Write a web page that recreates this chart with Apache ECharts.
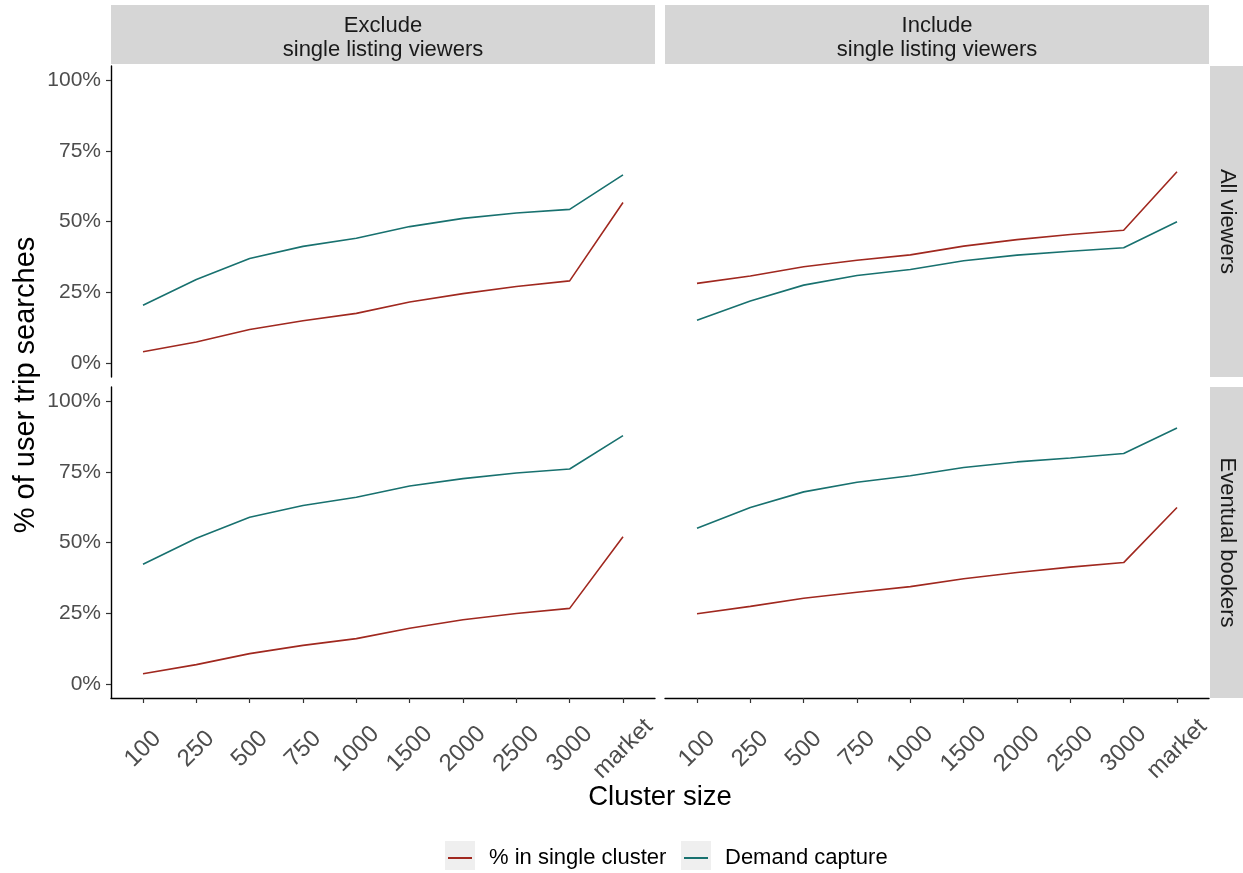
<!DOCTYPE html>
<html>
<head>
<meta charset="utf-8">
<script src="https://cdn.jsdelivr.net/npm/echarts@6/dist/echarts.min.js"></script>
<style>html,body{margin:0;padding:0;background:#fff}#c{width:1243px;height:873px}</style>
</head>
<body>
<div id="c"></div>
<script>
var clusterSizes = ['100','250','500','750','1000','1500','2000','2500','3000','market'];
var yTicks = [0, 0.25, 0.5, 0.75, 1];
var colTitles = ['Exclude\nsingle listing viewers', 'Include\nsingle listing viewers'];
var rowTitles = ['All viewers', 'Eventual bookers'];
var seriesNames = ['% in single cluster', 'Demand capture'];

var exclAllSingle   = [0.039,0.074,0.118,0.149,0.175,0.215,0.245,0.270,0.290,0.567];
var exclAllCapture  = [0.204,0.295,0.369,0.412,0.441,0.482,0.511,0.530,0.543,0.665];
var inclAllSingle   = [0.281,0.307,0.340,0.363,0.382,0.413,0.436,0.454,0.469,0.676];
var inclAllCapture  = [0.151,0.219,0.275,0.309,0.330,0.361,0.381,0.395,0.407,0.499];
var exclBookSingle  = [0.036,0.068,0.107,0.136,0.160,0.197,0.227,0.249,0.267,0.520];
var exclBookCapture = [0.423,0.515,0.589,0.631,0.660,0.700,0.726,0.746,0.760,0.878];
var inclBookSingle  = [0.248,0.274,0.303,0.324,0.344,0.372,0.394,0.413,0.429,0.624];
var inclBookCapture = [0.550,0.624,0.679,0.713,0.736,0.765,0.785,0.799,0.815,0.905];

var FONT = '"Liberation Sans", Arial, Helvetica, sans-serif';
var RED = '#A0281F', TEAL = '#18716F';

var panelLeft = [111, 665], panelTop = [66, 387], PW = 544, PH = 311;
var panelData = [
  [exclAllSingle, exclAllCapture], [inclAllSingle, inclAllCapture],
  [exclBookSingle, exclBookCapture], [inclBookSingle, inclBookCapture]
];

var grids = [], xAxes = [], yAxes = [], series = [];
var xIdx = clusterSizes.map(function(_, i){ return i; });
for (var r = 0; r < 2; r++) {
  for (var c = 0; c < 2; c++) {
    var g = r * 2 + c;
    grids.push({left: panelLeft[c], top: panelTop[r], width: PW, height: PH, containLabel: false});
    var showX = (r === 1), showY = (c === 0);
    xAxes.push({
      type: 'value', gridIndex: g, min: -0.6, max: 9.6,
      splitLine: {show: false},
      axisLine: {show: showX, onZero: false, lineStyle: {color: '#000', width: 1.4}},
      axisTick: {show: showX, length: 5, customValues: xIdx, lineStyle: {color: '#333', width: 1.2}},
      axisLabel: {show: showX, customValues: xIdx, rotate: 45, margin: 51,
        align: 'center', verticalAlign: 'middle',
        color: '#4d4d4d', fontSize: 24, fontFamily: FONT,
        formatter: function(v){ return clusterSizes[Math.round(v)]; }}
    });
    yAxes.push({
      type: 'value', gridIndex: g, min: -0.05, max: 1.05,
      splitLine: {show: false},
      axisLine: {show: showY, onZero: false, lineStyle: {color: '#000', width: 1.4}},
      axisTick: {show: showY, length: 5, customValues: yTicks, lineStyle: {color: '#333', width: 1.2}},
      axisLabel: {show: showY, customValues: yTicks, margin: 10,
        color: '#4d4d4d', fontSize: 21, fontFamily: FONT,
        formatter: function(v){ return Math.round(v * 100) + '%'; }}
    });
    var pd = panelData[g];
    [0, 1].forEach(function(k){
      series.push({
        name: seriesNames[k], type: 'line', xAxisIndex: g, yAxisIndex: g,
        symbol: 'none', silent: true, animation: false,
        lineStyle: {width: 1.6, color: k === 0 ? RED : TEAL},
        itemStyle: {color: k === 0 ? RED : TEAL},
        data: pd[k].map(function(v, i){ return [i, v]; })
      });
    });
  }
}

var graphics = [];
// top strips
for (var c2 = 0; c2 < 2; c2++) {
  graphics.push({type: 'rect', left: panelLeft[c2], top: 5, shape: {width: PW, height: 59}, style: {fill: '#d6d6d6'}, z: 0});
  graphics.push({type: 'text', x: panelLeft[c2] + PW / 2, y: 38, style: {text: colTitles[c2], align: 'center', verticalAlign: 'middle', font: '22px ' + FONT, fill: '#1a1a1a', lineHeight: 24}, z: 1});
}
// right strips
for (var r2 = 0; r2 < 2; r2++) {
  graphics.push({type: 'rect', left: 1210, top: panelTop[r2], shape: {width: 34, height: PH}, style: {fill: '#d6d6d6'}, z: 0});
  graphics.push({type: 'text', x: 1227, y: panelTop[r2] + PH / 2, rotation: -Math.PI / 2, style: {text: rowTitles[r2], align: 'center', verticalAlign: 'middle', font: '22px ' + FONT, fill: '#1a1a1a'}, z: 1});
}
// axis titles
graphics.push({type: 'text', x: 26, y: 385, rotation: Math.PI / 2, style: {text: '% of user trip searches', align: 'center', verticalAlign: 'middle', font: '29px ' + FONT, fill: '#000'}});
graphics.push({type: 'text', x: 660, y: 797, style: {text: 'Cluster size', align: 'center', verticalAlign: 'middle', font: '27.5px ' + FONT, fill: '#000'}});
// legend key backgrounds
graphics.push({type: 'rect', left: 445, top: 841, shape: {width: 30, height: 29}, style: {fill: '#efefef'}, z: 0});
graphics.push({type: 'rect', left: 681, top: 841, shape: {width: 30, height: 29}, style: {fill: '#efefef'}, z: 0});

var chart = echarts.init(document.getElementById('c'), null, {renderer: 'canvas'});
chart.setOption({
  backgroundColor: '#fff',
  animation: false,
  grid: grids, xAxis: xAxes, yAxis: yAxes, series: series,
  legend: [
    {data: [seriesNames[0]], left: 448, top: 847, padding: 0, itemWidth: 24, itemHeight: 2, icon: 'rect', itemGap: 0,
      textStyle: {fontSize: 22, fontFamily: FONT, color: '#000', padding: [0, 0, 0, 12]}, selectedMode: false, z: 5},
    {data: [seriesNames[1]], left: 684, top: 847, padding: 0, itemWidth: 24, itemHeight: 2, icon: 'rect', itemGap: 0,
      textStyle: {fontSize: 22, fontFamily: FONT, color: '#000', padding: [0, 0, 0, 12]}, selectedMode: false, z: 5}
  ],
  graphic: graphics
});
</script>
</body>
</html>
